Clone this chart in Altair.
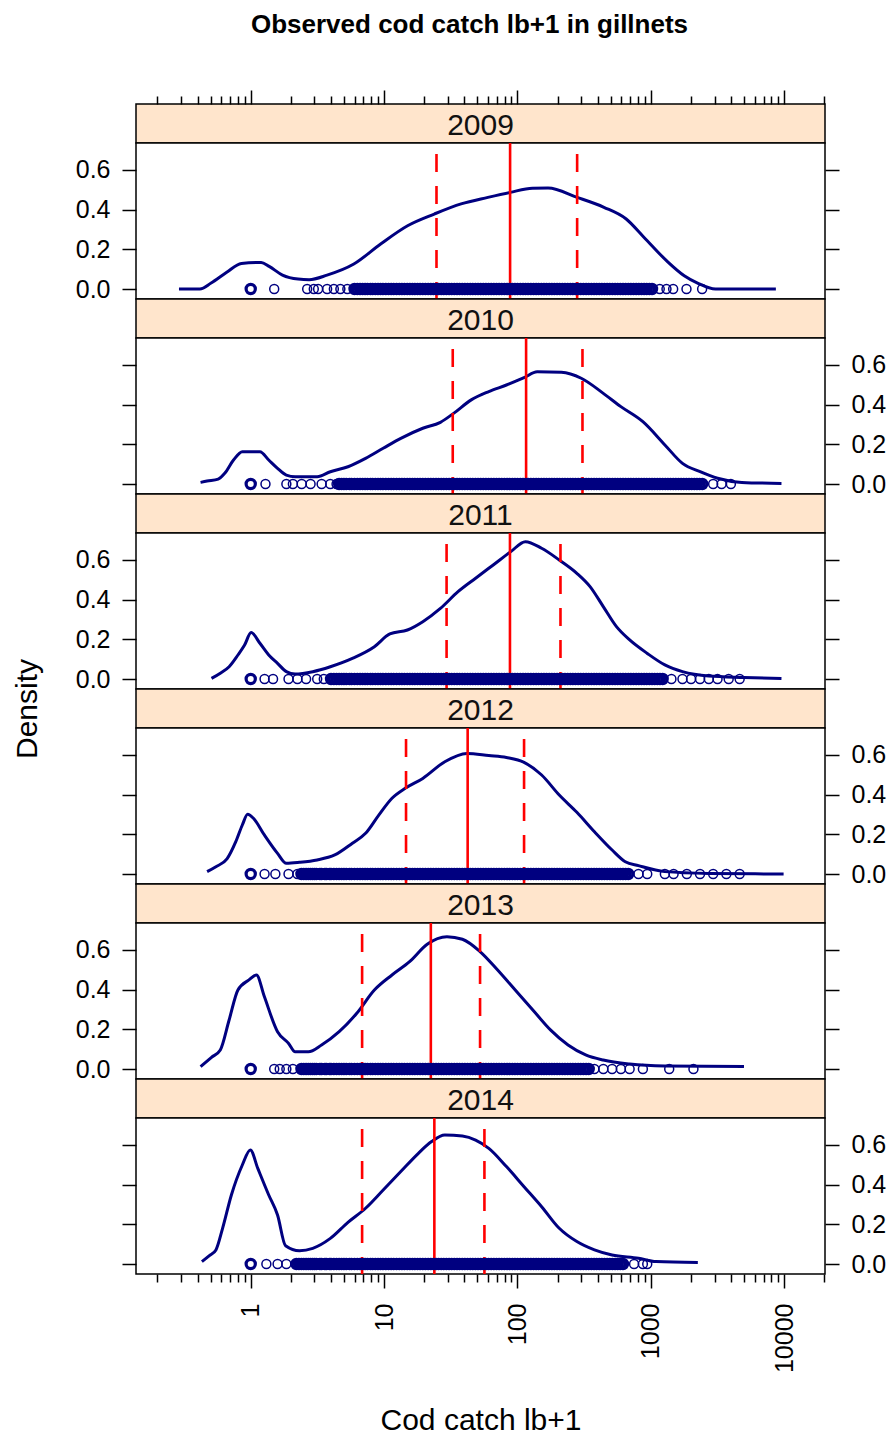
import altair as alt
import pandas as pd

YEARS = ["2009", "2010", "2011", "2012", "2013", "2014"]

# ---- density curves: log10(catch lb+1) and density ----
lx_2009 = [-0.538, -0.381, -0.297, -0.18, -0.07, 0.078, 0.138, 0.238, 0.355, 0.438, 0.572, 0.773, 0.974, 1.176,
           1.376, 1.577, 1.778, 1.945, 2.112, 2.229, 2.447, 2.648, 2.815, 2.949, 3.117, 3.25, 3.35, 3.485, 3.937]
d_2009 = [0, 0, 0.03, 0.084, 0.129, 0.134, 0.114, 0.07, 0.05, 0.047, 0.07, 0.126, 0.227, 0.319,
          0.378, 0.429, 0.462, 0.487, 0.508, 0.509, 0.462, 0.412, 0.353, 0.26, 0.143, 0.067, 0.03, 0, 0]

lx_2010 = [-0.376, -0.327, -0.244, -0.195, -0.129, -0.063, 0.069, 0.135, 0.201, 0.267, 0.333, 0.498, 0.597, 0.729,
           0.861, 0.993, 1.125, 1.29, 1.422, 1.521, 1.653, 1.785, 1.917, 2.049, 2.148, 2.329, 2.478, 2.643, 2.775,
           2.94, 3.105, 3.237, 3.369, 3.5, 3.682, 3.979]
d_2010 = [0.008, 0.015, 0.025, 0.054, 0.121, 0.163, 0.163, 0.121, 0.079, 0.045, 0.037, 0.037, 0.062, 0.087,
          0.129, 0.18, 0.23, 0.281, 0.311, 0.356, 0.424, 0.466, 0.499, 0.536, 0.566, 0.563, 0.533, 0.457, 0.39,
          0.314, 0.197, 0.104, 0.062, 0.029, 0.008, 0.003]

lx_2011 = [-0.294, -0.228, -0.162, -0.096, -0.046, 0.003, 0.069, 0.135, 0.201, 0.267, 0.333, 0.465, 0.597, 0.762,
           0.927, 1.043, 1.175, 1.29, 1.422, 1.554, 1.686, 1.818, 1.95, 2.059, 2.181, 2.313, 2.445, 2.544, 2.643,
           2.742, 2.841, 2.973, 3.105, 3.237, 3.434, 3.698, 3.979]
d_2011 = [0.003, 0.029, 0.062, 0.121, 0.171, 0.234, 0.18, 0.121, 0.079, 0.037, 0.025, 0.037, 0.062, 0.104,
          0.163, 0.227, 0.247, 0.289, 0.356, 0.44, 0.508, 0.575, 0.642, 0.692, 0.659, 0.6, 0.533, 0.466, 0.365,
          0.264, 0.197, 0.129, 0.071, 0.037, 0.015, 0.008, 0.003]

lx_2012 = [-0.327, -0.261, -0.178, -0.112, -0.063, -0.023, 0.02, 0.102, 0.201, 0.267, 0.366, 0.498, 0.63, 0.762,
           0.861, 0.96, 1.059, 1.158, 1.29, 1.455, 1.62, 1.785, 1.917, 2.049, 2.181, 2.313, 2.445, 2.577, 2.709,
           2.808, 2.907, 3.105, 3.434, 3.995]
d_2012 = [0.012, 0.037, 0.076, 0.163, 0.247, 0.301, 0.281, 0.197, 0.104, 0.054, 0.059, 0.071, 0.096, 0.155,
          0.205, 0.297, 0.382, 0.432, 0.482, 0.566, 0.608, 0.597, 0.587, 0.563, 0.499, 0.398, 0.311, 0.213, 0.121,
          0.062, 0.042, 0.012, 0.003, 0]

lx_2013 = [-0.376, -0.294, -0.228, -0.162, -0.096, -0.013, 0.043, 0.102, 0.201, 0.284, 0.333, 0.432, 0.531, 0.663,
           0.795, 0.927, 1.059, 1.191, 1.323, 1.471, 1.587, 1.719, 1.851, 1.983, 2.115, 2.247, 2.379, 2.511, 2.643,
           2.841, 3.105, 3.698]
d_2013 = [0.012, 0.059, 0.096, 0.247, 0.398, 0.449, 0.474, 0.365, 0.188, 0.129, 0.087, 0.087, 0.121, 0.188,
          0.281, 0.398, 0.474, 0.541, 0.629, 0.667, 0.654, 0.592, 0.499, 0.398, 0.297, 0.197, 0.121, 0.071, 0.045,
          0.025, 0.015, 0.012]

lx_2014 = [-0.366, -0.31, -0.261, -0.211, -0.145, -0.063, -0.003, 0.053, 0.135, 0.201, 0.261, 0.366, 0.465, 0.597,
           0.729, 0.861, 0.993, 1.125, 1.257, 1.356, 1.455, 1.587, 1.686, 1.785, 1.917, 2.049, 2.181, 2.313, 2.445,
           2.577, 2.709, 2.907, 3.039, 3.352]
d_2014 = [0.012, 0.042, 0.071, 0.18, 0.348, 0.499, 0.575, 0.482, 0.348, 0.247, 0.092, 0.067, 0.079, 0.129,
          0.21, 0.281, 0.373, 0.466, 0.558, 0.617, 0.65, 0.645, 0.625, 0.583, 0.491, 0.39, 0.289, 0.18, 0.113,
          0.071, 0.045, 0.029, 0.012, 0.008]

# ---- quartiles (dashed) and median (solid) of catch lb+1 ----
q25 = [24.7, 32.7, 29.4, 14.6, 6.84, 6.84]
q50 = [88.0, 116.0, 87.8, 42.3, 22.4, 23.8]
q75 = [280.0, 307.0, 210.0, 112.0, 52.4, 56.5]

# ---- observed catches shown as points ----
catch_values = [2.2, 2.3, 2.4, 2.5, 2.6, 2.7, 2.8, 2.9, 3.0, 3.1, 3.3, 3.4, 3.6, 3.7, 3.9, 4.0, 4.2, 4.4, 4.6,
                4.8, 5.0, 5.2, 5.5, 5.7, 6.0, 6.3, 6.6, 6.9, 7.2, 7.5, 7.9, 8.2, 8.6, 9.0, 9.4, 9.8, 10.3, 10.8,
                11.3, 11.8, 12.4, 13, 13.6, 14.2, 14.9, 15.6, 16.3, 17, 17.8, 18.6, 19.5, 20.4, 21.4, 22.4, 23.4,
                24.5, 25.6, 26.8, 28, 29.3, 30.7, 32.1, 33.6, 35.2, 36.8, 38.5, 40.3, 42.2, 44.2, 46.2, 48.4, 50.6,
                53, 55.4, 58, 60.7, 63.5, 66.5, 69.6, 72.8, 76.2, 79.8, 83.5, 87.4, 91.5, 95.7, 100, 105, 110, 115,
                120, 126, 132, 138, 144, 151, 158, 165, 173, 181, 189, 198, 207, 217, 227, 238, 249, 260, 272, 285,
                298, 312, 327, 342, 358, 375, 392, 410, 429, 449, 470, 492, 515, 539, 564, 590, 618, 647, 677, 708,
                741, 776, 812, 850, 890, 931, 975, 1020, 1068, 1118, 1170, 1225, 1282, 1342, 1404, 1470, 1538, 1610,
                1685, 1764, 1846, 1932, 2022, 2117, 2216, 2319, 2427, 2540]
low_2009 = [1.5, 2.65, 2.97, 3.2, 3.74, 4.2, 4.7, 5.3]
high_2009 = [1165, 1309, 1469, 1849, 2422]
low_2010 = [1.29, 1.85, 2.07, 2.41, 2.81, 3.4, 3.95, 4.4]
high_2010 = [2930, 3390, 3980]
low_2011 = [1.27, 1.47, 1.92, 2.24, 2.6, 3.15, 3.53]
high_2011 = [1426, 1725, 2000, 2335, 2720, 3160, 3830, 4630]
low_2012 = [1.27, 1.53, 1.92, 2.24]
high_2012 = [807, 939, 1273, 1480, 1860, 2335, 2930, 3680, 4630]
low_2013 = [1.5, 1.65, 1.85, 2.07]
high_2013 = [377, 440, 512, 596, 693, 871, 1372, 2085]
low_2014 = [1.31, 1.59, 1.85]
high_2014 = [748, 871, 939]
band_lo = [5.9, 4.6, 3.95, 2.32, 2.32, 2.15]
band_hi = [1040, 2520, 1273, 693, 350, 642]
zero_catch = [1.0]  # many trips at exactly 1 (no cod) in every year

# ---- ticks ----
X_MAJOR = [1, 10, 100, 1000, 10000]
X_MINOR = [0.2, 0.3, 0.4, 0.5, 0.6, 0.7, 0.8, 0.9,
           2, 3, 4, 5, 6, 7, 8, 9,
           20, 30, 40, 50, 60, 70, 80, 90,
           200, 300, 400, 500, 600, 700, 800, 900,
           2000, 3000, 4000, 5000, 6000, 7000, 8000, 9000, 20000]
Y_TICKS = [0.0, 0.2, 0.4, 0.6]

curves = [(lx_2009, d_2009), (lx_2010, d_2010), (lx_2011, d_2011),
          (lx_2012, d_2012), (lx_2013, d_2013), (lx_2014, d_2014)]
lows = [low_2009, low_2010, low_2011, low_2012, low_2013, low_2014]
highs = [high_2009, high_2010, high_2011, high_2012, high_2013, high_2014]

W = 689
STRIP_H = 39
PLOT_H = 156
INK = "#000080"
RED = "#FF0000"
STRIP_FILL = "#FFE5CC"
FONT = "Liberation Sans"

x_scale = alt.Scale(type="log", domain=[0.138, 20200], nice=False)
y_scale = alt.Scale(domain=[-0.0504, 0.736], nice=False, zero=False)


def y_axis(orient, labels, **kw):
    return alt.Axis(orient=orient, values=Y_TICKS, format=".1f", labels=labels, tickSize=14,
                    tickWidth=1.5, tickColor="black", labelFontSize=25, labelFont=FONT,
                    labelColor="black", labelPadding=12, domain=False, grid=False, **kw)


def x_axis(orient, values, size, labels=False, **kw):
    return alt.Axis(orient=orient, values=values, labels=labels, tickSize=size, tickWidth=1.5,
                    tickColor="black", domain=False, grid=False, **kw)


def strip(i):
    df = pd.DataFrame({"year": [YEARS[i]]})
    return alt.Chart(df).mark_text(fontSize=30, font=FONT, color="#111111", baseline="middle", dy=2).encode(
        text="year:N", x=alt.value(W / 2), y=alt.value(STRIP_H / 2)
    ).properties(width=W, height=STRIP_H,
                 view=alt.ViewBackground(fill=STRIP_FILL, stroke="black", strokeWidth=1.5))


def panel(i):
    lx, d = curves[i]
    curve_df = pd.DataFrame({"catch": [10 ** v for v in lx], "dens": d})
    band = zero_catch + [c for c in catch_values if band_lo[i] <= c <= band_hi[i]]
    sparse = lows[i] + highs[i]
    band_df = pd.DataFrame({"catch": band, "y0": [0.0] * len(band)})
    sparse_df = pd.DataFrame({"catch": sparse, "y0": [0.0] * len(sparse)})
    med_df = pd.DataFrame({"q": [q50[i]]})
    quart_df = pd.DataFrame({"q": [q25[i], q75[i]]})

    left_labels = (i % 2 == 0)
    first = (i == 0)
    last = (i == len(YEARS) - 1)

    if first:
        # ticks above the strip of the top panel
        xa_line = x_axis("top", X_MAJOR, 14, offset=STRIP_H, title=None)
        xa_pts = x_axis("top", X_MINOR, 8, offset=STRIP_H, title=None)
    elif last:
        xa_line = x_axis("bottom", X_MAJOR, 14, labels=True, format="d", labelAngle=270,
                         labelAlign="right", labelBaseline="middle", labelFontSize=25, labelFont=FONT,
                         labelColor="black", labelPadding=15, labelOverlap=False, labelFlush=False,
                         title="Cod catch lb+1", titleFontSize=30, titleFont=FONT,
                         titleFontWeight="normal", titleColor="black", titlePadding=33)
        xa_pts = x_axis("bottom", X_MINOR, 8, title=None)
    else:
        xa_line = None
        xa_pts = None

    if i == 3:
        extra = dict(title="Density", titleFontSize=30, titleFont=FONT, titleFontWeight="normal",
                     titleColor="black", titleAngle=270, titleX=-94, titleY=-19.5,
                     titleBaseline="bottom", titleAlign="center")
    else:
        extra = dict(title=None)

    line = alt.Chart(curve_df).mark_line(color=INK, strokeWidth=3, interpolate="monotone").encode(
        x=alt.X("catch:Q", scale=x_scale, axis=xa_line),
        y=alt.Y("dens:Q", scale=y_scale, axis=y_axis("left", left_labels, **extra)),
    )
    sparse_pts = alt.Chart(sparse_df).mark_point(shape="circle", filled=False, size=80, strokeWidth=1.5,
                                                 color=INK, opacity=1).encode(
        x=alt.X("catch:Q", scale=x_scale, axis=xa_pts),
        y=alt.Y("y0:Q", scale=y_scale, axis=y_axis("right", not left_labels, title=None)),
    )
    band_pts = alt.Chart(band_df).mark_point(shape="circle", filled=False, size=85, strokeWidth=3.2,
                                             color=INK, opacity=1).encode(
        x=alt.X("catch:Q", scale=x_scale, axis=None),
        y=alt.Y("y0:Q", scale=y_scale, axis=None),
    )
    med = alt.Chart(med_df).mark_rule(color=RED, strokeWidth=2.6).encode(
        x=alt.X("q:Q", scale=x_scale, axis=None))
    quart = alt.Chart(quart_df).mark_rule(color=RED, strokeWidth=2.6, strokeDash=[18, 14],
                                          strokeDashOffset=21).encode(
        x=alt.X("q:Q", scale=x_scale, axis=None))

    return alt.layer(line, quart, med, sparse_pts, band_pts).resolve_axis(
        x="independent", y="independent").properties(width=W, height=PLOT_H)


rows = []
for i in range(len(YEARS)):
    rows.append(strip(i))
    rows.append(panel(i))

chart = alt.vconcat(*rows, spacing=0, bounds="flush").properties(
    title=alt.TitleParams("Observed cod catch lb+1 in gillnets", fontSize=26, font=FONT,
                          fontWeight="bold", color="black", anchor="middle", frame="group",
                          dx=-11, offset=51),
    padding={"left": 3, "top": 3, "right": 0, "bottom": 0},
).configure_view(stroke="black", strokeWidth=1.5, fill="white")

chart.save("out.html", embed_options={"renderer": "svg", "actions": False})
